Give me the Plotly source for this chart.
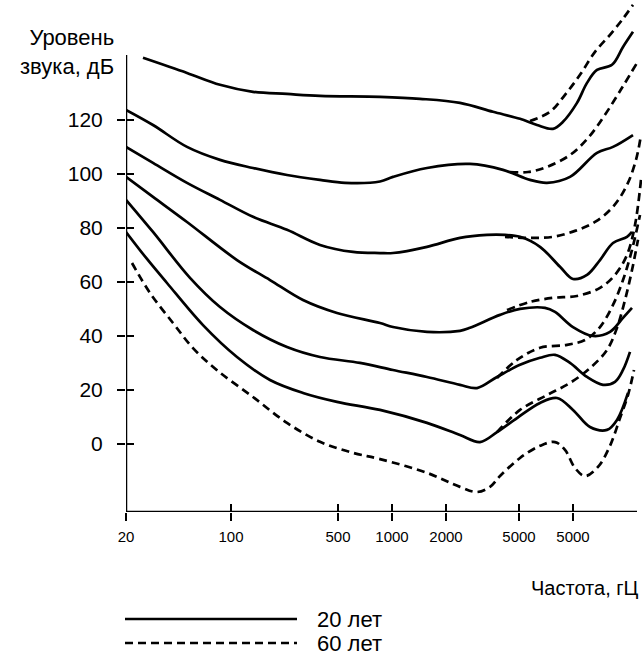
import plotly.graph_objects as go

# ---- axis ticks ----
x_tick_pos = [0, 105, 212, 266, 320, 393, 447]
x_tick_labels = ["20", "100", "500", "1000", "2000", "5000", "5000"]
y_tick_vals = [0, 20, 40, 60, 80, 100, 120]

# ---- 20 лет (solid) curves: x = position on frequency axis, y = dB ----
s1_x = [17, 61, 94, 127, 161, 194, 254, 294, 334, 367, 394, 411, 427, 437, 451, 461, 471, 486, 497, 507]
s1_db = [143.0, 137.4, 133.0, 130.4, 129.6, 128.9, 128.5, 127.8, 126.3, 123.0, 120.4, 118.1, 116.7, 119.3, 126.3, 133.7, 138.5, 140.4, 147.0, 152.6]

s2_x = [0, 27, 61, 94, 127, 161, 194, 219, 254, 267, 301, 344, 377, 404, 421, 444, 471, 487, 507]
s2_db = [123.7, 118.1, 110.0, 105.2, 102.2, 99.6, 97.8, 96.7, 97.2, 98.9, 102.2, 103.7, 101.5, 97.8, 96.7, 98.9, 107.8, 110.0, 114.4]

s3_x = [0, 27, 61, 94, 127, 161, 194, 227, 254, 267, 301, 334, 361, 379, 394, 414, 434, 447, 461, 474, 487, 501, 506]
s3_db = [110.0, 104.1, 96.7, 90.4, 84.1, 79.3, 73.7, 71.1, 70.7, 70.7, 73.0, 76.3, 77.4, 77.4, 76.7, 73.0, 65.6, 61.1, 62.6, 68.1, 74.4, 76.7, 78.5]

s4_x = [0, 27, 61, 111, 144, 177, 211, 254, 267, 301, 334, 344, 374, 394, 419, 429, 447, 467, 484, 497, 506]
s4_db = [98.9, 91.5, 82.2, 68.1, 60.7, 53.3, 48.5, 44.8, 43.3, 41.5, 41.9, 43.0, 47.8, 50.0, 50.4, 48.9, 43.3, 40.0, 41.5, 46.7, 50.4]

s5_x = [0, 27, 64, 94, 127, 161, 194, 234, 267, 301, 334, 351, 371, 394, 414, 429, 444, 461, 477, 489, 497, 504]
s5_db = [90.4, 78.5, 61.5, 50.7, 42.2, 35.9, 32.2, 30.0, 27.4, 24.8, 21.9, 20.7, 24.8, 29.3, 31.9, 33.0, 30.0, 24.8, 21.9, 23.0, 27.4, 34.1]

s6_x = [0, 21, 41, 77, 111, 144, 177, 211, 254, 301, 334, 354, 371, 391, 414, 431, 447, 464, 481, 491, 502]
s6_db = [78.5, 68.5, 59.6, 44.0, 32.2, 23.7, 18.9, 15.6, 12.6, 7.8, 3.3, 0.7, 4.4, 9.6, 15.2, 17.0, 12.6, 6.3, 5.2, 8.9, 18.9]

# ---- 60 лет (dashed) curves ----
d1_x = [404, 424, 439, 454, 469, 484, 496, 507]
d1_db = [119.6, 123.0, 129.3, 136.7, 145.2, 151.5, 157.0, 162.6]

d2_x = [384, 402, 421, 444, 462, 479, 496, 511]
d2_db = [100.7, 100.7, 102.6, 107.0, 113.3, 121.9, 131.9, 141.1]

d3_x = [379, 404, 427, 449, 469, 487, 501, 510, 515]
d3_db = [76.7, 76.3, 76.7, 78.9, 82.2, 87.8, 95.9, 105.2, 114.4]

d4_x = [381, 404, 427, 451, 474, 489, 501, 509, 515]
d4_db = [49.6, 52.6, 54.1, 54.8, 57.8, 62.6, 70.0, 81.1, 97.8]

d5_x = [371, 391, 414, 441, 459, 474, 487, 497, 506, 514]
d5_db = [24.4, 31.1, 35.6, 36.7, 38.5, 43.3, 51.5, 60.7, 71.9, 84.8]

d6_x = [371, 394, 421, 444, 464, 481, 491, 499, 506, 512]
d6_db = [4.4, 12.6, 18.1, 22.6, 28.1, 34.8, 43.0, 53.3, 64.4, 75.6]

d0_x = [6, 24, 47, 67, 92, 127, 161, 194, 227, 254, 301, 334, 351, 364, 374, 394, 414, 429, 439, 449, 459, 472, 484, 494, 502, 508]
d0_db = [67.0, 55.9, 44.8, 35.5, 27.0, 17.4, 7.8, 0.8, -3.3, -5.6, -10.7, -15.9, -17.8, -15.9, -11.9, -5.2, -0.7, 0.7, -2.2, -8.9, -11.9, -8.5, -0.7, 9.6, 18.1, 27.4]

solid_curves = [(s1_x, s1_db), (s2_x, s2_db), (s3_x, s3_db), (s4_x, s4_db), (s5_x, s5_db), (s6_x, s6_db)]
dashed_curves = [(d1_x, d1_db), (d2_x, d2_db), (d3_x, d3_db), (d4_x, d4_db), (d5_x, d5_db), (d6_x, d6_db), (d0_x, d0_db)]

legend_labels = ["20 лет", "60 лет"]

X_MIN, X_MAX = 0, 516
Y_MIN, Y_MAX = -25.2, 164.4
AXIS_TOP = 144
AXIS_RIGHT = 511

FONT = "Liberation Sans, Arial, sans-serif"
DASH = "8px,5px"

fig = go.Figure()
for xs, ys in solid_curves:
    fig.add_trace(go.Scatter(x=xs, y=ys, mode="lines",
                             line=dict(color="black", width=2.7, shape="spline", smoothing=1.0),
                             showlegend=False, hoverinfo="skip"))
for xs, ys in dashed_curves:
    fig.add_trace(go.Scatter(x=xs, y=ys, mode="lines",
                             line=dict(color="black", width=2.7, dash=DASH, shape="spline", smoothing=1.0),
                             showlegend=False, hoverinfo="skip"))

# invisible trace to create overlay axes (inside half of the crossing ticks)
fig.add_trace(go.Scatter(x=[X_MIN], y=[Y_MIN], xaxis="x2", yaxis="y2", mode="markers",
                         marker=dict(opacity=0), showlegend=False, hoverinfo="skip"))

common_x = dict(range=[X_MIN, X_MAX], tickmode="array", tickvals=x_tick_pos,
                showgrid=False, zeroline=False, showline=False, ticklen=8, tickwidth=2, tickcolor="black")
common_y = dict(range=[Y_MIN, Y_MAX], tickmode="array", tickvals=y_tick_vals,
                showgrid=False, zeroline=False, showline=False, ticklen=8, tickwidth=2, tickcolor="black")

fig.update_layout(
    width=642, height=656,
    margin=dict(l=126, r=0, t=0, b=144),
    paper_bgcolor="white", plot_bgcolor="white",
    font=dict(family=FONT, color="black"),
    xaxis=dict(**common_x, ticks="outside", ticktext=x_tick_labels,
               tickfont=dict(size=15, family=FONT, color="black"), ticklabelstandoff=3),
    yaxis=dict(**common_y, ticks="outside", ticktext=[str(v) for v in y_tick_vals],
               tickfont=dict(size=21, family=FONT, color="black"), ticklabelstandoff=10),
    xaxis2=dict(**common_x, ticks="inside", overlaying="x", anchor="y2", side="bottom",
                showticklabels=False),
    yaxis2=dict(**common_y, ticks="inside", overlaying="y", anchor="x2", side="left",
                showticklabels=False),
    hovermode=False,
)

# axis lines (the frame is shorter than the drawing area)
fig.add_shape(type="line", xref="x", yref="y", x0=X_MIN, x1=X_MIN, y0=Y_MIN, y1=AXIS_TOP,
              line=dict(color="black", width=2.5))
fig.add_shape(type="line", xref="x", yref="y", x0=X_MIN, x1=AXIS_RIGHT, y0=Y_MIN, y1=Y_MIN,
              line=dict(color="black", width=2.5))

# axis titles
fig.add_annotation(text="Уровень<br>звука, дБ", xref="paper", yref="paper",
                   x=-0.019, y=0.898, xanchor="right", yanchor="middle", align="right",
                   showarrow=False, font=dict(size=22, family=FONT, color="black"))
fig.add_annotation(text="Частота, гЦ", xref="paper", yref="paper",
                   x=0.999, y=-0.148, xanchor="right", yanchor="middle",
                   showarrow=False, font=dict(size=20, family=FONT, color="black"))

# legend drawn below the plot
leg_x0 = (125 - 126) / 516
leg_x1 = (297 - 126) / 516
leg_tx = (315 - 126) / 516
leg_y = [(512 - 619) / 512, (512 - 643) / 512]
leg_dash = [None, DASH]
for lab, ly, dsh in zip(legend_labels, leg_y, leg_dash):
    ln = dict(color="black", width=2.7)
    if dsh:
        ln["dash"] = dsh
    fig.add_shape(type="line", xref="paper", yref="paper", x0=leg_x0, x1=leg_x1, y0=ly, y1=ly, line=ln)
    fig.add_annotation(text=lab, xref="paper", yref="paper", x=leg_tx, y=ly,
                       xanchor="left", yanchor="middle", showarrow=False,
                       font=dict(size=22, family=FONT, color="black"))

fig.write_html("out.html", config={"displayModeBar": False},
               post_script="document.body.style.margin='0px';document.body.style.overflow='hidden';")
